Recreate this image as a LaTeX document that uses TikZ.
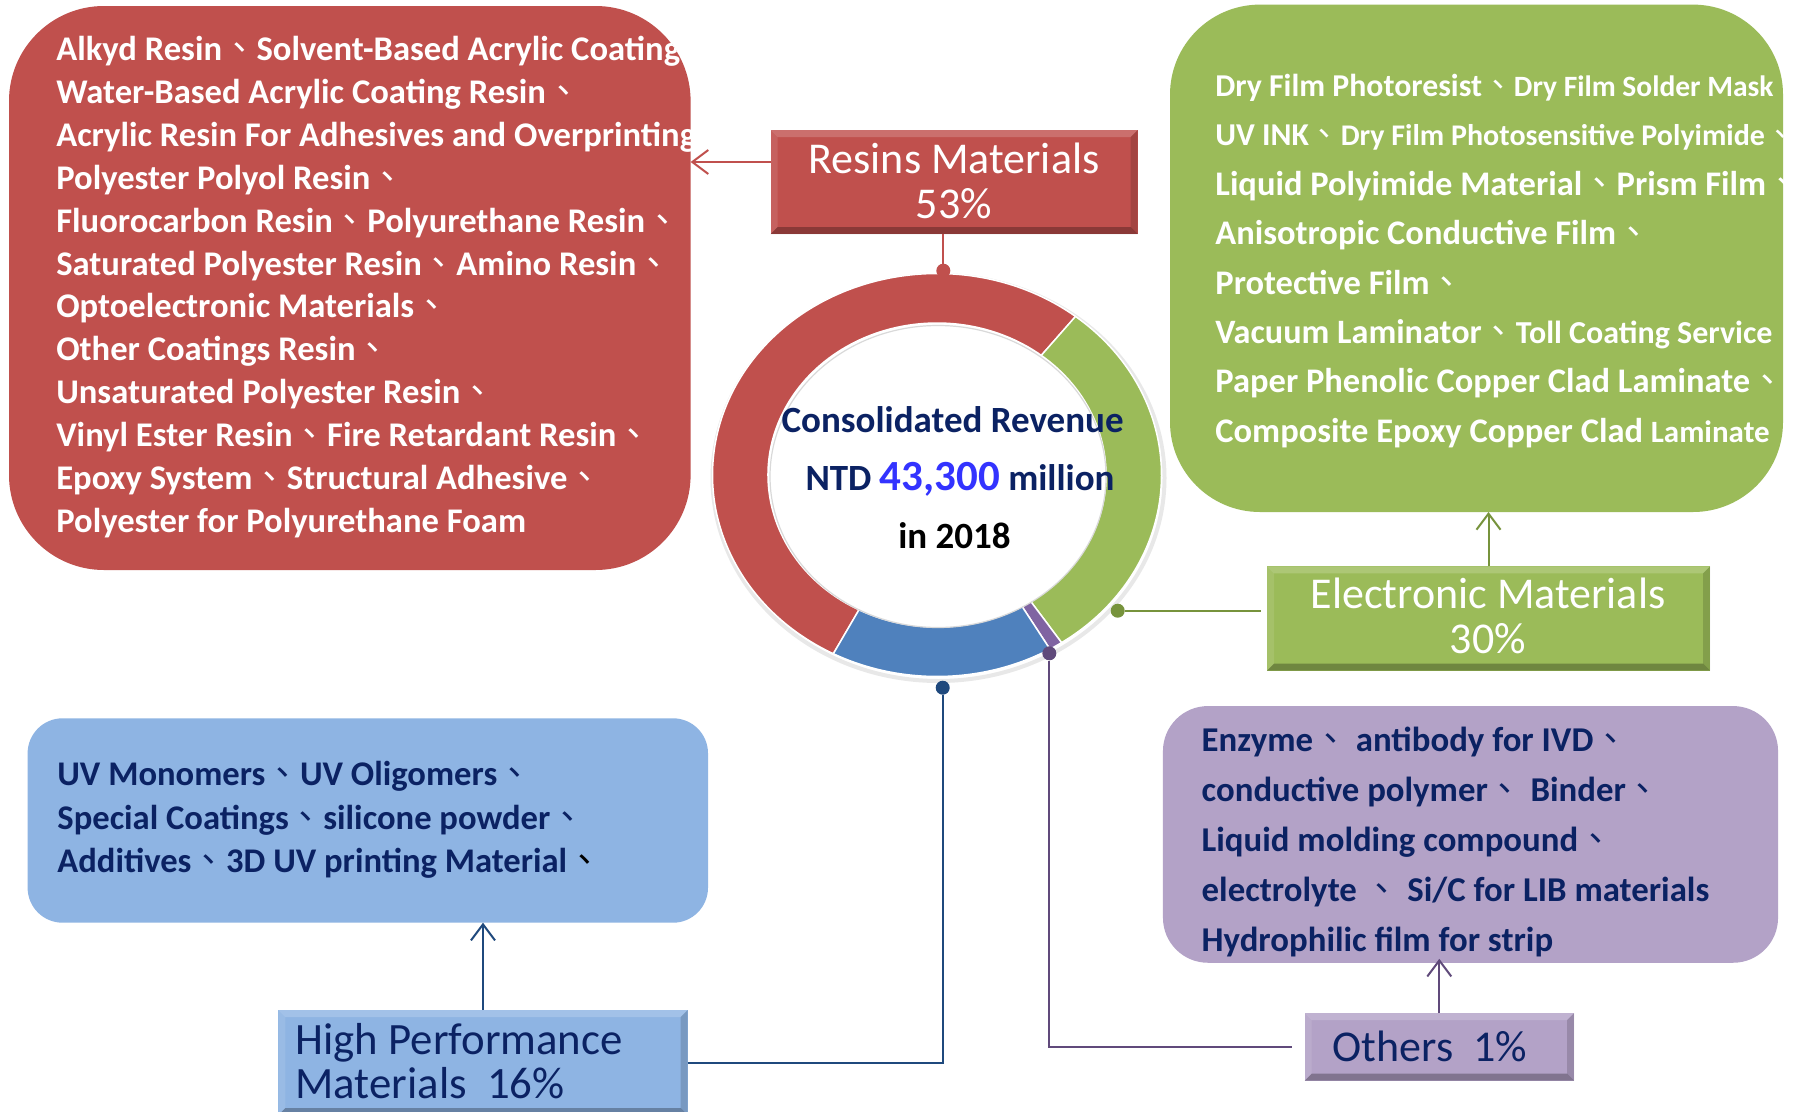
\documentclass[tikz,border=0pt]{standalone}
\usepackage{fontspec}
\setmainfont{Carlito}
\newfontfamily\cjkfont{Noto Sans CJK TC}
\usetikzlibrary{arrows.meta,calc}
\newcommand\dn{{\cjkfont\mdseries 、}}
\newcommand\setfs[1]{\fontsize{#1}{#1}\selectfont}
\definecolor{rRed}{HTML}{C0504D}
\definecolor{rGreen}{HTML}{9BBB59}
\definecolor{rBlue}{HTML}{4F81BD}
\definecolor{rPurple}{HTML}{8064A2}
\definecolor{lBlue}{HTML}{8EB4E3}
\definecolor{lPurple}{HTML}{B3A2C7}
\definecolor{navy}{HTML}{0B2263}
\definecolor{numBlue}{HTML}{3333FF}
\definecolor{lnGreen}{HTML}{77933C}
\definecolor{lnBlue}{HTML}{1F497D}
\definecolor{lnPurple}{HTML}{604A7B}
\begin{document}
\begin{tikzpicture}[x=1pt,y=1pt,
  lw/.style={line width=2pt},
  barb/.style={-{Straight Barb[length=16pt,width=24pt]}},
  tbox/.style={inner sep=0pt, outer sep=0pt, draw=none},
  ln/.style={anchor=base west, inner sep=0pt, outer sep=0pt},
  ctr/.style={anchor=base, inner sep=0pt, outer sep=0pt},
  bevel/.style={inner sep=0pt, outer sep=0pt, draw=none,
    path picture={
      \fill[black,opacity=.28] (path picture bounding box.south west) -- (path picture bounding box.south east) -- ([shift={(-7pt,7pt)}]path picture bounding box.south east) -- ([shift={(7pt,7pt)}]path picture bounding box.south west) -- cycle;
      \fill[black,opacity=.15] (path picture bounding box.south east) -- (path picture bounding box.north east) -- ([shift={(-7pt,-7pt)}]path picture bounding box.north east) -- ([shift={(-7pt,7pt)}]path picture bounding box.south east) -- cycle;
      \fill[white,opacity=.18] (path picture bounding box.north west) -- (path picture bounding box.north east) -- ([shift={(-7pt,-7pt)}]path picture bounding box.north east) -- ([shift={(7pt,-7pt)}]path picture bounding box.north west) -- cycle;
      \fill[white,opacity=.10] (path picture bounding box.north west) -- (path picture bounding box.south west) -- ([shift={(7pt,7pt)}]path picture bounding box.south west) -- ([shift={(7pt,-7pt)}]path picture bounding box.north west) -- cycle;
    }},
]
\useasboundingbox (0,0) rectangle (1796,-1111);
\clip (0,0) rectangle (1796,-1111);
\fill[white] (0,0) rectangle (1796,-1111);

% ---------- big text boxes ----------
\node[tbox, fill=rRed, rounded corners=95pt, minimum width=681.6pt, minimum height=564pt] (redbox) at (349.8,-288) {};
\node[tbox, fill=rGreen, rounded corners=90pt, minimum width=613pt, minimum height=507.4pt] (greenbox) at (1476.5,-258.3) {};
\node[tbox, fill=lBlue, rounded corners=35pt, minimum width=680.4pt, minimum height=204.4pt] (bluebox) at (367.8,-820.5) {};
\node[tbox, fill=lPurple, rounded corners=45pt, minimum width=615.1pt, minimum height=256.7pt] (purplebox) at (1470.5,-834.4) {};

% red text
\begin{scope}
\clip[rounded corners=95pt] (redbox.south west) rectangle (redbox.north east);
\foreach \t [count=\i] in {
  {Alkyd Resin\dn Solvent-Based Acrylic Coating},
  {Water-Based Acrylic Coating Resin\dn},
  {Acrylic Resin For Adhesives and Overprinting},
  {Polyester Polyol Resin\dn},
  {Fluorocarbon Resin\dn Polyurethane Resin\dn},
  {Saturated Polyester Resin\dn Amino Resin\dn},
  {Optoelectronic Materials\dn},
  {Other Coatings Resin\dn},
  {Unsaturated Polyester Resin\dn},
  {Vinyl Ester Resin\dn Fire Retardant Resin\dn},
  {Epoxy System\dn Structural Adhesive\dn},
  {Polyester for Polyurethane Foam}}
  {\node[ln, text=white, font=\setfs{34.6}\bfseries] (r\i) at (56.3,{-60.5-42.9*(\i-1)}) {\t};}
\end{scope}

% green text
\begin{scope}
\clip[rounded corners=90pt] (greenbox.south west) rectangle (greenbox.north east);
\foreach \t/\s [count=\i] in {
  {Dry Film Photoresist\dn{\setfs{29.5}Dry Film Solder Mask}}/31.8,
  {UV INK\dn{\setfs{30}Dry Film Photosensitive Polyimide\dn}}/31.8,
  {Liquid Polyimide Material\dn Prism Film\dn}/34.5,
  {Anisotropic Conductive Film\dn}/34.5,
  {Protective Film\dn}/34.5,
  {Vacuum Laminator\dn{\setfs{32}Toll Coating Service}}/34.2,
  {Paper Phenolic Copper Clad Laminate\dn}/34.5,
  {Composite Epoxy Copper Clad {\setfs{31}Laminate}}/34.5}
  {\node[ln, text=white, font=\setfs{\s}\bfseries] (g\i) at (1215.4,{-96.4-49.4*(\i-1)}) {\t};}
\end{scope}

% blue text
\foreach \t [count=\i] in {
  {UV Monomers\dn UV Oligomers\dn},
  {Special Coatings\dn silicone powder\dn},
  {Additives\dn 3D UV printing Material{\color{black}\dn}}}
  {\node[ln, text=navy, font=\setfs{34.6}\bfseries] (b\i) at (57.4,{-785.7-43.5*(\i-1)}) {\t};}

% purple text
\foreach \t [count=\i] in {
  {Enzyme\dn{} antibody for IVD\dn},
  {conductive polymer\dn{} Binder\dn},
  {Liquid molding compound\dn},
  {electrolyte \dn{} Si/C for LIB materials},
  {Hydrophilic film for strip}}
  {\node[ln, text=navy, font=\setfs{34.8}\bfseries] (p\i) at (1201.7,{-751.7-50*(\i-1)}) {\t};}

% ---------- donut ----------
\coordinate (dc) at (937,-475);
\draw[black!9, line width=4pt] ($(dc)+(1.5,-3)$) ellipse [x radius=226pt, y radius=203pt];
\foreach \c/\a/\b in {rRed/51.9/242.5, rGreen/-56.3/51.9, rPurple/-59.8/-56.3, rBlue/-117.5/-59.8}{
  \fill[\c, draw=white, line width=1.5pt]
    ($(dc)+({224.5*cos(\a)},{201.5*sin(\a)})$)
    arc[start angle=\a, end angle=\b, x radius=224.5pt, y radius=201.5pt]
    -- ($(dc)+({169*cos(\b)},{152*sin(\b)})$)
    arc[start angle=\b, end angle=\a, x radius=169pt, y radius=152pt] -- cycle;
}
\draw[black!15, line width=1.2pt] ($(dc)+(1,-1.5)$) ellipse [x radius=168pt, y radius=151pt];

% center text
\node[ctr, text=navy, font=\setfs{37}\bfseries] (ctitle) at (952.6,-432.3) {Consolidated Revenue};
\node[ctr, text=navy, font=\setfs{37}\bfseries] (cval) at (960,-490) {NTD {\color{numBlue}\setfs{43}43,300} million};
\node[ctr, text=black, font=\setfs{37}\bfseries] (cyear) at (954.5,-548.3) {in 2018};

% ---------- label boxes ----------
\node[bevel, fill=rRed, minimum width=367pt, minimum height=104pt] (resins) at (954.2,-182) {};
\node[ctr, text=white, font=\setfs{44}] (resT1) at (954,-173.3) {Resins Materials};
\node[ctr, text=white, font=\setfs{44}] (resT2) at (954,-218) {53\%};

\node[bevel, fill=rGreen, minimum width=443pt, minimum height=104.3pt] (elec) at (1488.5,-618.5) {};
\node[ctr, text=white, font=\setfs{44}] (elecT1) at (1488,-608) {Electronic Materials};
\node[ctr, text=white, font=\setfs{44}] (elecT2) at (1488,-653) {30\%};

\node[bevel, fill=lBlue, minimum width=409.3pt, minimum height=105pt] (hp) at (483,-1062.5) {};
\node[ln, text=navy, font=\setfs{44.8}] (hpT1) at (295.6,-1054) {High Performance};
\node[ln, text=navy, font=\setfs{44.8}] (hpT2) at (295.6,-1098) {Materials~~16\%};

\node[bevel, fill=lPurple, minimum width=269.4pt, minimum height=67.7pt] (others) at (1439.3,-1046.85) {};
\node[ln, text=navy, font=\setfs{44}] (othT) at (1332.6,-1061) {Others~~1\%};

% ---------- dots ----------
\node[circle, fill=rRed, inner sep=0pt, minimum size=14pt] (dotR) at (943.3,-270.7) {};
\node[circle, fill=lnGreen, inner sep=0pt, minimum size=14pt] (dotG) at (1117.7,-610.7) {};
\node[circle, fill=lnPurple, inner sep=0pt, minimum size=14pt] (dotP) at (1049.3,-653.3) {};
\node[circle, fill=lnBlue, inner sep=0pt, minimum size=14pt] (dotB) at (942.7,-687.7) {};

% ---------- connectors ----------
\draw[rRed, lw] (dotR) -- (dotR |- resins.south);
\draw[rRed, lw, barb] ([yshift=20pt]resins.west) -- ([yshift=20pt]resins.west -| redbox.east);

\draw[lnGreen, lw, barb] (elec.north) -- (elec.north |- greenbox.south);
\draw[lnGreen, lw] (dotG) -- ([xshift=-6pt]dotG -| elec.west);

\draw[lnBlue, lw, barb] (hp.north) -- (hp.north |- bluebox.south);
\draw[lnBlue, lw] (hp.east) -- (hp.east -| dotB) -- (dotB);

\draw[lnPurple, lw, barb] (others.north) -- ([yshift=4pt]others.north |- purplebox.south);
\draw[lnPurple, lw] ([xshift=-13pt]others.west) -- (others.west -| dotP) -- (dotP);
\end{tikzpicture}
\end{document}
